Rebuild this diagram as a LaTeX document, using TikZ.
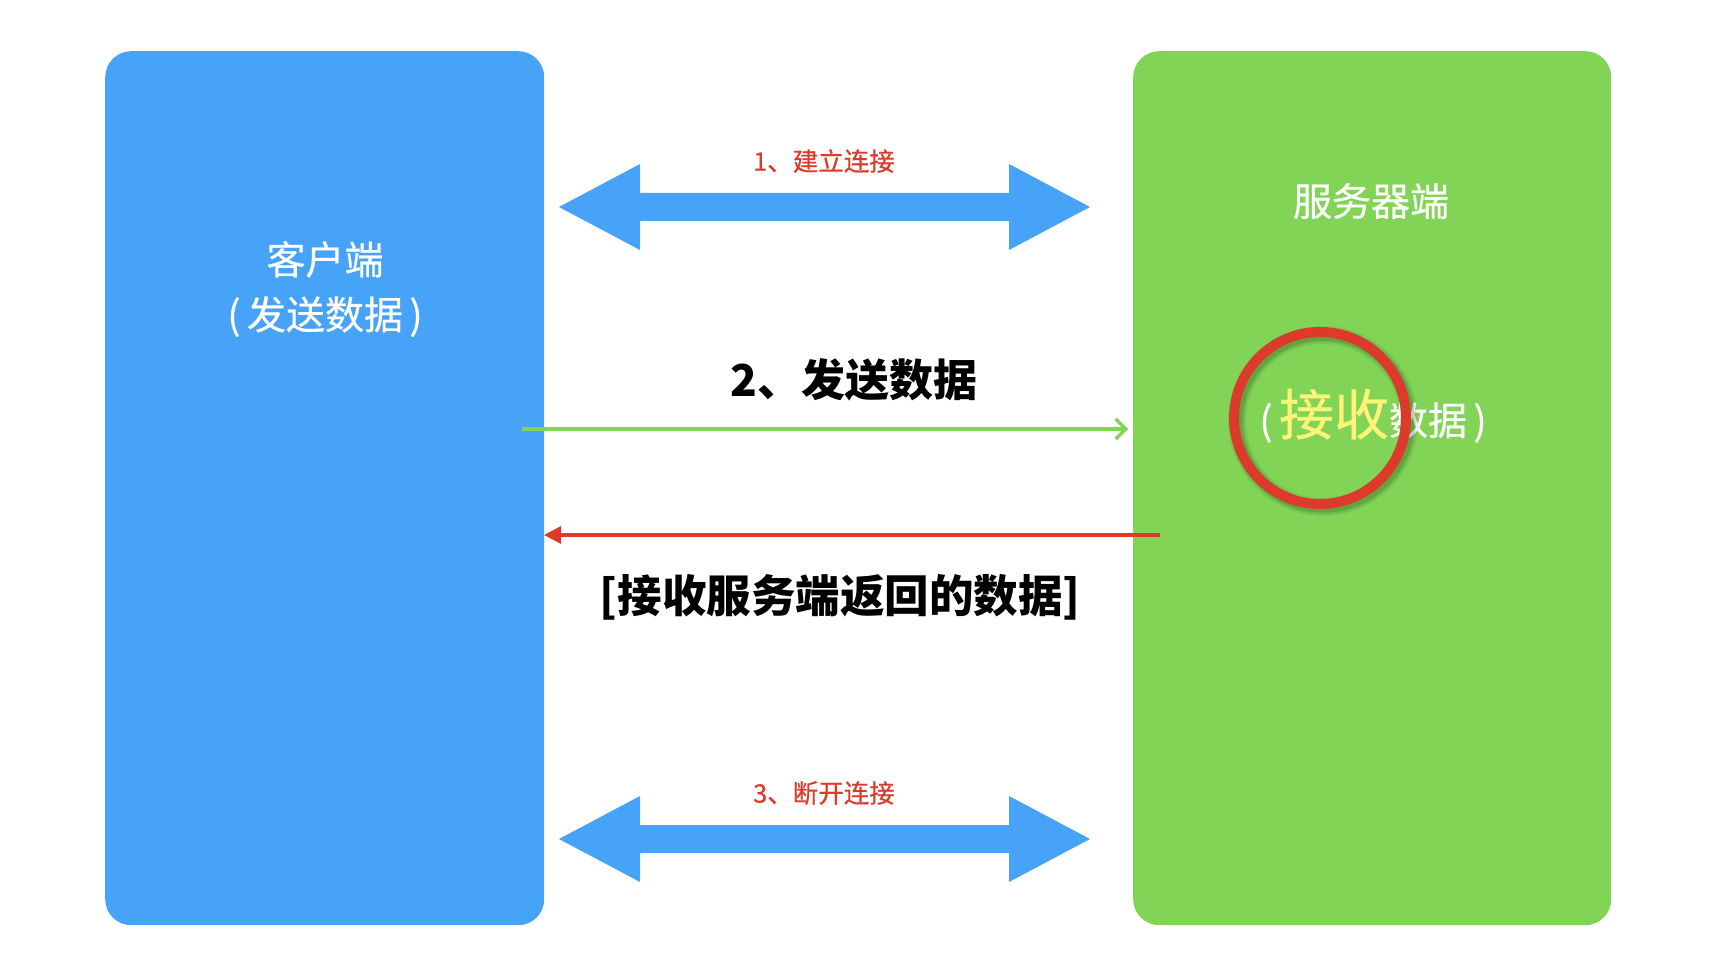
\documentclass[tikz,border=0pt]{standalone}
\usepackage{fontspec}
\setmainfont{Noto Sans CJK SC}
\newfontfamily\medfont[FakeBold=0.5]{Noto Sans CJK SC}
\usetikzlibrary{arrows.meta}
\definecolor{cblue}{HTML}{47A3F8}
\definecolor{cgreen}{HTML}{81D455}
\definecolor{cred}{HTML}{DC3A2A}
\definecolor{cyel}{HTML}{FFF37A}
\tikzset{
  panel/.style={rounded corners=26pt, minimum width=#1, inner sep=0pt, anchor=north west, minimum height=874pt},
  whitetxt/.style={text=white, inner sep=0pt, font=\medfont\fontsize{39}{55}\selectfont, align=center},
  redlabel/.style={text=cred, inner sep=0pt, font=\medfont\fontsize{25.5}{25.5}\selectfont},
  boldlabel/.style={text=black, inner sep=0pt, font=\bfseries\fontsize{#1}{#1}\selectfont},
  bigarrow/.style={fill=cblue},
}
\begin{document}
\begin{tikzpicture}[x=1pt,y=-1pt]
\useasboundingbox (0,0) rectangle (1716,976);
\fill[white] (0,0) rectangle (1716,976);
% panels
\node[panel=439pt, fill=cblue] (client) at (105,51) {};
\node[panel=478pt, fill=cgreen] (server) at (1133,51) {};
% panel texts
\node[whitetxt] (clienttxt) at (325,289) {客户端\\(\,发送数据\,)};
\node[whitetxt] (servertxt) at (1371,201) {服务器端};
% double arrows
\fill[bigarrow] (559,207) -- (640,164) -- (640,193) -- (1009,193) -- (1009,164) -- (1090,207)
  -- (1009,250) -- (1009,221) -- (640,221) -- (640,250) -- cycle;
\fill[bigarrow] (559,839) -- (640,796) -- (640,825) -- (1009,825) -- (1009,796) -- (1090,839)
  -- (1009,882) -- (1009,853) -- (640,853) -- (640,882) -- cycle;
\node[redlabel] (lab1) at (824,161) {1、建立连接};
\node[redlabel] (lab3) at (824,793) {3、断开连接};
% send / receive
\coordinate (sendA) at (522,429);
\coordinate (sendB) at (1128,429);
\coordinate (recvA) at (1160,535);
\coordinate (recvB) at (544,535);
\draw[cgreen, line width=3.3pt, -{Straight Barb[length=10pt,width=20pt,line width=3.3pt]}] (sendA) -- (sendB);
\draw[cred, line width=3.3pt, -{Triangle[length=17pt,width=17pt]}] (recvA) -- (recvB);
\node[boldlabel=44] (lab2) at (854,380) {2、发送数据};
\node[boldlabel=44.5] (labr) at (840,597) {[接收服务端返回的数据]};
% receive text and highlight circle
\node[whitetxt, anchor=base] (recvtxt) at (1373,435) {(\,{\color{cyel}\fontsize{55}{55}\selectfont 接收}数据\,)};
\foreach \o/\w in {0.06/18,0.08/14,0.10/11}{
  \draw[black, opacity=\o, line width=\w pt] (1323,421) circle (86);
}
\draw[cred, line width=10pt] (1320,418) circle (86) coordinate (ring);
\end{tikzpicture}
\end{document}
